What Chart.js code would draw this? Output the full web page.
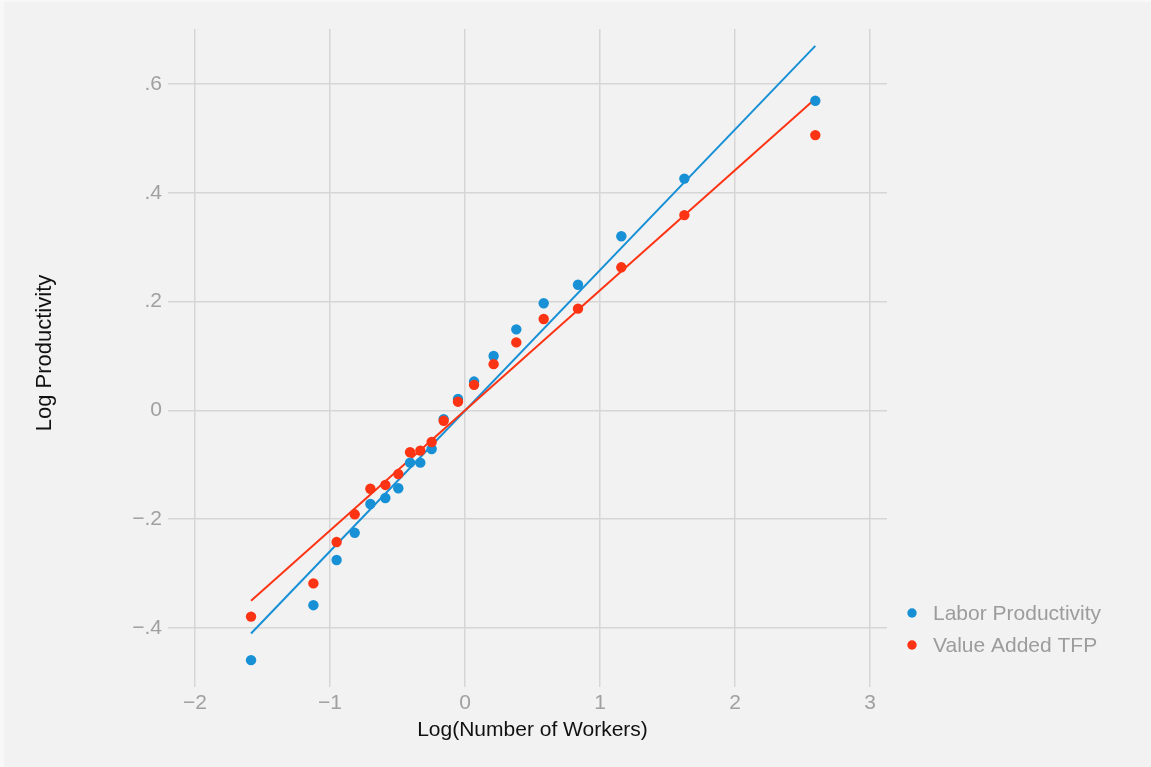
<!DOCTYPE html>
<html>
<head>
<meta charset="utf-8">
<title>Log Productivity vs Log(Number of Workers)</title>
<script src="https://cdn.jsdelivr.net/npm/chart.js@4/dist/chart.umd.min.js"></script>
<style>
  html, body { margin: 0; padding: 0; background: #f8f8f8; overflow: hidden; }
  #wrap { position: absolute; left: 4px; top: 2px; width: 1147px; height: 765px; background: #f2f2f2; }
  canvas { display: block; }
</style>
</head>
<body>
<div id="wrap"><canvas id="chart" width="1147" height="765"></canvas></div>
<script>
// Binned means: log firm size on x, log productivity on y
const logWorkers = [-1.585, -1.123, -0.951, -0.817, -0.701, -0.590, -0.494, -0.407, -0.331, -0.247,
                    -0.158, -0.052, 0.067, 0.212, 0.380, 0.583, 0.837, 1.158, 1.625, 2.595];
const laborProductivity = [-0.459, -0.358, -0.275, -0.225, -0.172, -0.161, -0.143, -0.096, -0.096, -0.071,
                           -0.016, 0.021, 0.053, 0.100, 0.149, 0.197, 0.231, 0.320, 0.426, 0.569];
const valueAddedTFP = [-0.379, -0.318, -0.242, -0.191, -0.144, -0.137, -0.117, -0.077, -0.074, -0.058,
                       -0.019, 0.016, 0.047, 0.085, 0.125, 0.168, 0.187, 0.263, 0.359, 0.506];

// Fitted lines (end points)
const fitX = [-1.585, 2.595];
const laborFitY = [-0.410, 0.670];
const tfpFitY = [-0.350, 0.573];

// Axis ticks
const xTicks = [-2, -1, 0, 1, 2, 3];
const xTickLabels = ['\u22122', '\u22121', '0', '1', '2', '3'];
const yTicks = [-0.4, -0.2, 0, 0.2, 0.4, 0.6];
const yTickLabels = ['\u2212.4', '\u2212.2', '0', '.2', '.4', '.6'];

const seriesNames = ['Labor Productivity', 'Value Added TFP'];
const xTitle = 'Log(Number of Workers)';
const yTitle = 'Log Productivity';

const BLUE = '#1790d6';
const RED = '#fc3414';
const GRID = '#d6d6d6';
const TICK_TEXT = '#a0a0a0';
const FONT = '"Liberation Sans", Arial, Helvetica, sans-serif';

const pts = (xs, ys) => xs.map((x, i) => ({ x: x, y: ys[i] }));

// Legend in the lower right, beside the plot region (listed in series order)
const sideLegend = {
  id: 'sideLegend',
  afterDraw(chart) {
    const ctx = chart.ctx;
    const area = chart.chartArea;
    const entries = seriesNames.map(n => chart.data.datasets.find(d => d.inLegend && d.label === n));
    ctx.save();
    ctx.font = '21px ' + FONT;
    ctx.textBaseline = 'middle';
    ctx.textAlign = 'left';
    entries.forEach((d, i) => {
      const y = area.bottom - 64 + i * 32;
      const x = area.right + 25;
      ctx.beginPath();
      ctx.fillStyle = d.backgroundColor;
      ctx.arc(x, y, 4.7, 0, Math.PI * 2);
      ctx.fill();
      ctx.fillStyle = '#9c9c9c';
      ctx.fillText(d.label, x + 21, y + 1);
    });
    ctx.restore();
  }
};

new Chart(document.getElementById('chart'), {
  type: 'scatter',
  data: {
    datasets: [
      {
        label: seriesNames[1],
        inLegend: true,
        data: pts(logWorkers, valueAddedTFP),
        backgroundColor: RED,
        borderWidth: 0,
        pointRadius: 5.2,
        pointHoverRadius: 5.2,
        order: 0
      },
      {
        label: seriesNames[0],
        inLegend: true,
        data: pts(logWorkers, laborProductivity),
        backgroundColor: BLUE,
        borderWidth: 0,
        pointRadius: 5.2,
        pointHoverRadius: 5.2,
        order: 1
      },
      {
        label: 'TFP fit',
        data: pts(fitX, tfpFitY),
        showLine: true,
        borderColor: RED,
        borderWidth: 2,
        pointRadius: 0,
        order: 2
      },
      {
        label: 'Labor fit',
        data: pts(fitX, laborFitY),
        showLine: true,
        borderColor: BLUE,
        borderWidth: 2,
        pointRadius: 0,
        order: 3
      }
    ]
  },
  options: {
    responsive: false,
    animation: false,
    devicePixelRatio: 1,
    layout: { padding: { left: 0, top: 27, right: 264, bottom: 0 } },
    plugins: {
      legend: { display: false },
      tooltip: { enabled: false }
    },
    scales: {
      x: {
        type: 'linear',
        min: -2.126,
        max: 3.126,
        afterFit(scale) { scale.height = 90; },
        afterBuildTicks(scale) { scale.ticks = xTicks.map(v => ({ value: v })); },
        border: { display: false },
        grid: { color: GRID, lineWidth: 1.5, drawTicks: true, tickLength: 10, tickColor: GRID },
        ticks: {
          padding: 4,
          color: TICK_TEXT,
          font: { family: FONT, size: 21 },
          callback: (v) => xTickLabels[xTicks.indexOf(v)]
        },
        title: {
          display: true,
          text: xTitle,
          color: '#111111',
          font: { family: FONT, size: 21 },
          padding: { top: 0, bottom: 24 }
        }
      },
      y: {
        type: 'linear',
        min: -0.490,
        max: 0.701,
        afterFit(scale) { scale.width = 174; },
        afterBuildTicks(scale) { scale.ticks = yTicks.map(v => ({ value: v })); },
        border: { display: false },
        grid: { color: GRID, lineWidth: 1.5, drawTicks: true, tickLength: 10, tickColor: GRID },
        ticks: {
          padding: 6,
          color: TICK_TEXT,
          font: { family: FONT, size: 21 },
          callback: (v) => {
            const i = yTicks.findIndex(t => Math.abs(t - v) < 1e-9);
            return i >= 0 ? yTickLabels[i] : '';
          }
        },
        title: {
          display: true,
          text: yTitle,
          color: '#111111',
          font: { family: FONT, size: 22 },
          padding: { top: 28, bottom: 0 }
        }
      }
    }
  },
  plugins: [sideLegend]
});
</script>
</body>
</html>
